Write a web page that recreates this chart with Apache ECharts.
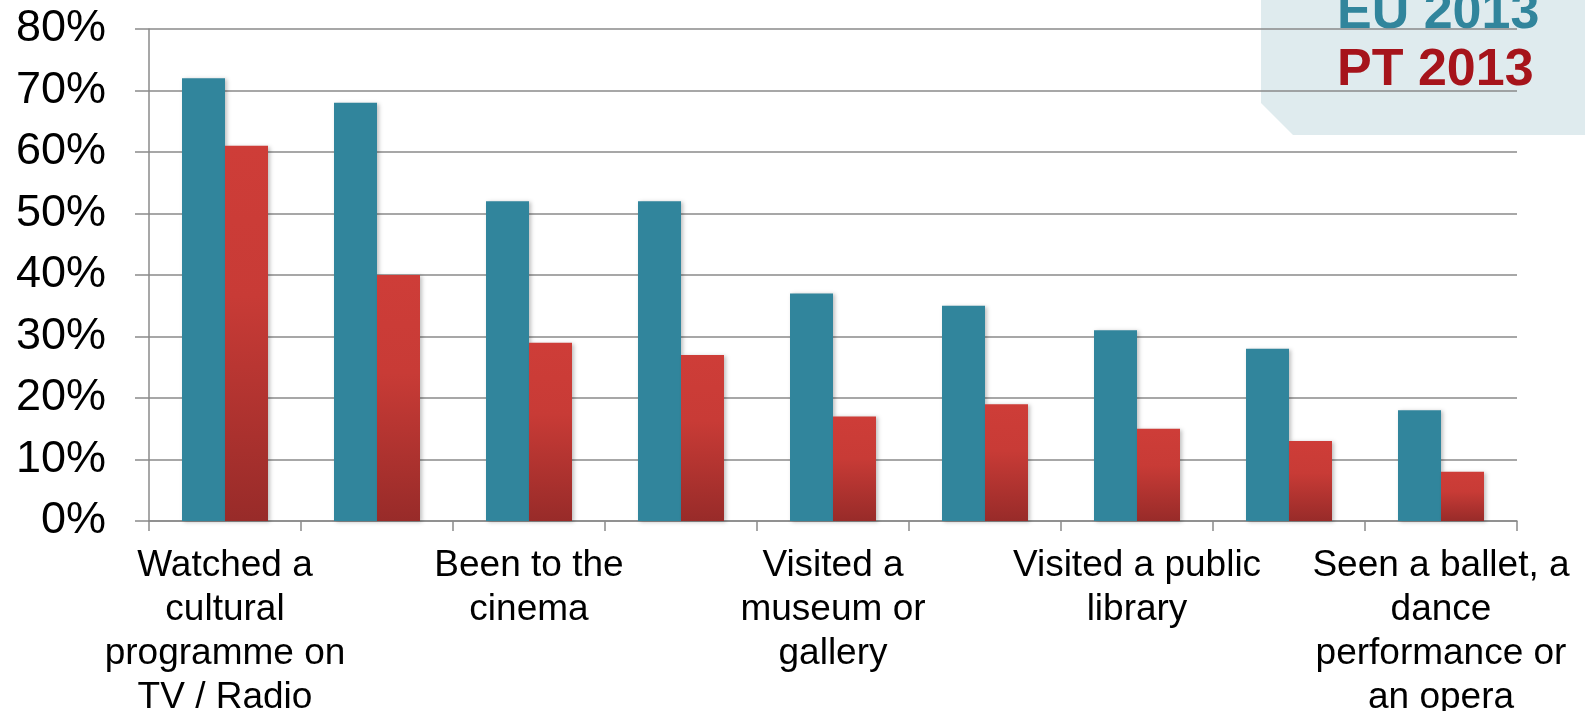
<!DOCTYPE html>
<html>
<head>
<meta charset="utf-8">
<title>Cultural participation EU / PT 2013</title>
<script src="https://cdn.jsdelivr.net/npm/echarts@6/dist/echarts.min.js"></script>
<style>
  html, body { margin: 0; padding: 0; background: #fff; }
  #main { width: 1585px; height: 711px; }
</style>
</head>
<body>
<div id="main"></div>
<script>
// categories (only every second one is labelled in the chart)
const categories = [
  'Watched a\ncultural\nprogramme on\nTV / Radio',
  'Read a book',
  'Been to the\ncinema',
  'Visited a\nhistorical\nmonument',
  'Visited a\nmuseum or\ngallery',
  'Been to a\nconcert',
  'Visited a public\nlibrary',
  'Been to the\ntheatre',
  'Seen a ballet, a\ndance\nperformance or\nan opera'
];
const euValues = [72, 68, 52, 52, 37, 35, 31, 28, 18];
const ptValues = [61, 40, 29, 27, 17, 19, 15, 13, 8];
const seriesNames = ['EU 2013', 'PT 2013'];

const FONT = '"Liberation Sans", Arial, sans-serif';
const EU_COLOR = '#31859c';
const PT_TEXT = '#a6141b';

const myChart = echarts.init(document.getElementById('main'));

const barShadow = {
  shadowColor: 'rgba(0,0,0,0.25)',
  shadowBlur: 4,
  shadowOffsetX: 2,
  shadowOffsetY: 1
};

const option = {
  animation: false,
  backgroundColor: '#fff',
  grid: {
    left: 149,
    right: 68,
    top: 29,
    bottom: 190,
    containLabel: false,
    outerBoundsMode: 'none'
  },
  // legend box, top right
  graphic: [
    {
      type: 'polygon',
      z: -10,
      shape: {
        points: [[1261, 0], [1585, 0], [1585, 135], [1293, 135], [1261, 103]]
      },
      style: { fill: '#dfebee' }
    },
    {
      type: 'text',
      z: -5,
      left: 1337,
      top: -12,
      style: {
        text: seriesNames[0],
        fill: EU_COLOR,
        font: 'bold 52px ' + FONT
      }
    },
    {
      type: 'text',
      z: -5,
      left: 1337,
      top: 45,
      style: {
        text: seriesNames[1],
        fill: PT_TEXT,
        font: 'bold 52px ' + FONT
      }
    }
  ],
  xAxis: {
    type: 'category',
    data: categories,
    boundaryGap: true,
    axisLine: {
      show: true,
      lineStyle: { color: '#8a8a8a', width: 1.5 }
    },
    axisTick: {
      show: true,
      interval: 0,
      length: 10,
      lineStyle: { color: '#8a8a8a', width: 1.5 }
    },
    axisLabel: {
      interval: 1,
      margin: 23,
      color: '#000',
      fontFamily: FONT,
      fontSize: 37,
      lineHeight: 44,
      align: 'center'
    },
    splitLine: { show: false }
  },
  yAxis: {
    type: 'value',
    min: 0,
    max: 80,
    interval: 10,
    axisLine: {
      show: true,
      lineStyle: { color: '#8a8a8a', width: 1.5 }
    },
    axisTick: {
      show: true,
      length: 14,
      lineStyle: { color: '#8a8a8a', width: 1.5 }
    },
    axisLabel: {
      formatter: '{value}%',
      margin: 43,
      color: '#000',
      fontFamily: FONT,
      fontSize: 45
    },
    splitLine: {
      show: true,
      lineStyle: { color: '#8a8a8a', width: 1.5 }
    }
  },
  series: [
    {
      name: seriesNames[0],
      type: 'bar',
      data: euValues,
      barWidth: 43,
      barGap: '0%',
      itemStyle: Object.assign({ color: EU_COLOR }, barShadow)
    },
    {
      name: seriesNames[1],
      type: 'bar',
      data: ptValues,
      barWidth: 43,
      barGap: '0%',
      itemStyle: Object.assign({
        color: new echarts.graphic.LinearGradient(0, 0, 0, 1, [
          { offset: 0, color: '#ce3d38' },
          { offset: 0.4, color: '#c83b36' },
          { offset: 1, color: '#982b29' }
        ])
      }, barShadow)
    }
  ]
};

myChart.setOption(option);
</script>
</body>
</html>
